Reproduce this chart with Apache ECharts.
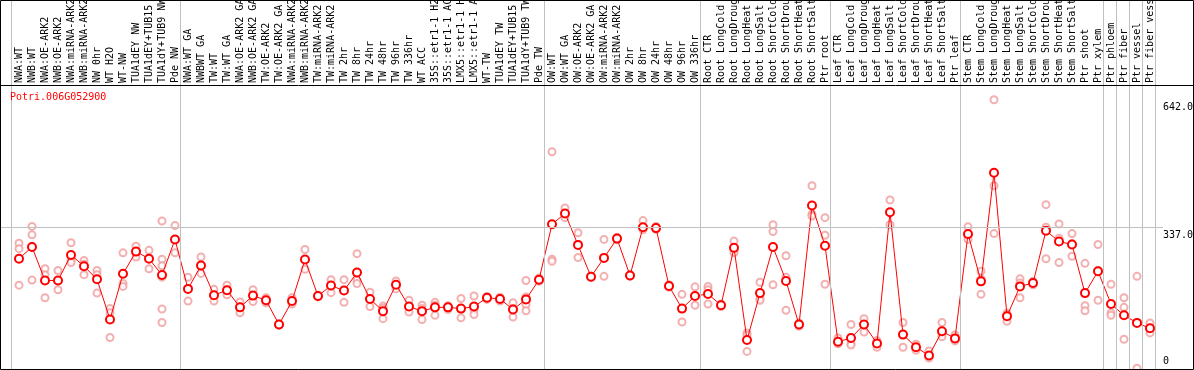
<!DOCTYPE html>
<html>
<head>
<meta charset="utf-8">
<script src="https://cdn.jsdelivr.net/npm/echarts@6.0.0/dist/echarts.min.js"></script>
<style>
  body { margin: 0; background: #fff; }
  #chart { width: 1194px; height: 370px; }
</style>
</head>
<body>
<div id="chart"></div>
<script>
const geneId = 'Potri.006G052900';

const categories = [
  'NWA:WT', 'NWB:WT', 'NWA:OE-ARK2', 'NWB:OE-ARK2', 'NWA:miRNA-ARK2', 'NWB:miRNA-ARK2',
  'NW 0hr', 'WT H2O', 'WT-NW', 'TUA1dEY NW', 'TUA1dEY+TUB15 NW', 'TUA1dY+TUB9 NW', 'Pde NW',
  'NWA:WT GA', 'NWBWT GA', 'TW:WT', 'TW:WT GA', 'NWA:OE-ARK2 GA', 'NWB:OE-ARK2 GA',
  'TW:OE-ARK2', 'TW:OE-ARK2 GA', 'NWA:miRNA-ARK2 GA', 'NWB:miRNA-ARK2 GA', 'TW:miRNA-ARK2',
  'TW:miRNA-ARK2 GA', 'TW 2hr', 'TW 8hr', 'TW 24hr', 'TW 48hr', 'TW 96hr', 'TW 336hr',
  'WT ACC', '35S::etr1-1 H2O', '35S::etr1-1 ACC', 'LMX5::etr1-1 H2O', 'LMX5::etr1-1 ACC',
  'WT-TW', 'TUA1dEY TW', 'TUA1dEY+TUB15 TW', 'TUA1dY+TUB9 TW', 'Pde TW',
  'OW:WT', 'OW:WT GA', 'OW:OE-ARK2', 'OW:OE-ARK2 GA', 'OW:miRNA-ARK2', 'OW:miRNA-ARK2 GA',
  'OW 2hr', 'OW 8hr', 'OW 24hr', 'OW 48hr', 'OW 96hr', 'OW 336hr',
  'Root CTR', 'Root LongCold', 'Root LongDrought', 'Root LongHeat', 'Root LongSalt',
  'Root ShortCold', 'Root ShortDrought', 'Root ShortHeat', 'Root ShortSalt', 'Ptr root',
  'Leaf CTR', 'Leaf LongCold', 'Leaf LongDrought', 'Leaf LongHeat', 'Leaf LongSalt',
  'Leaf ShortCold', 'Leaf ShortDrought', 'Leaf ShortHeat', 'Leaf ShortSalt', 'Ptr leaf',
  'Stem CTR', 'Stem LongCold', 'Stem LongDrought', 'Stem LongHeat', 'Stem LongSalt',
  'Stem ShortCold', 'Stem ShortDrought', 'Stem ShortHeat', 'Stem ShortSalt', 'Ptr shoot', 'Ptr xylem',
  'Ptr phloem', 'Ptr fiber', 'Ptr vessel', 'Ptr fiber vessel'
];

// category index where each sample group starts (last one = end of axis)
const groupBreaks = [0, 13, 41, 53, 63, 73, 84, 85, 86, 87, 88];

const means = [
  263, 291, 211, 211, 272, 245, 214, 118, 227, 280, 263, 224, 309,
  191, 247, 176, 188, 147, 175, 164, 106, 162, 261, 174, 199, 187, 230, 167, 138, 201,
  149, 138, 147, 147, 144, 149, 170, 167, 142, 166, 213,
  345, 371, 296, 220, 265, 311, 223, 338, 336, 198, 144, 174,
  179, 152, 289, 69, 181, 291, 210, 106, 390, 294,
  65, 74, 106, 61, 374, 82, 52, 32, 90, 73,
  322, 209, 468, 126, 197, 205, 330, 304, 297, 181, 233,
  155, 128, 110, 97
];

const replicates = [
  [300, 287, 200], [340, 320, 212], [239, 225, 170], [235, 211, 189], [301, 259, 254],
  [259, 250, 225], [235, 225, 181], [144, 134, 75], [277, 204, 197], [293, 280, 267],
  [283, 264, 239], [353, 262, 246, 219, 143, 111], [342, 277],
  [219, 162], [267, 228], [190, 176, 162], [200, 188, 177], [160, 147, 134],
  [189, 175, 161], [170, 164, 158], [108, 106, 104], [170, 162, 155], [285, 261, 238],
  [176, 174, 172], [213, 199, 182], [213, 188, 159], [275, 212, 204], [183, 168, 149],
  [150, 145, 120], [210, 201, 191], [164, 149, 136], [152, 144, 118], [159, 152, 128],
  [151, 148, 142], [168, 143, 122], [174, 141, 130], [173, 170, 166], [171, 167, 162],
  [158, 144, 124], [211, 172, 154, 139], [217, 213, 209],
  [518, 262, 257], [384, 371, 361], [325, 297, 266], [222, 220, 218], [309, 265, 221],
  [314, 311, 308], [225, 223, 221], [354, 338, 332], [340, 336, 333], [201, 198, 195],
  [178, 144, 112], [196, 174, 152],
  [197, 189, 155], [155, 152, 149], [305, 283, 277], [86, 81, 42], [207, 168, 164],
  [344, 328, 201], [270, 219, 140], [110, 106, 102], [437, 369, 365], [361, 319, 202],
  [74, 62, 60], [106, 60, 57], [120, 106, 88], [68, 61, 52], [403, 374, 344],
  [111, 82, 52], [59, 52, 45], [43, 32, 26], [111, 84, 77], [81, 70, 67],
  [339, 318, 309], [233, 215, 178], [642, 437, 323], [133, 130, 114], [215, 205, 170],
  [209, 205, 201], [392, 338, 263], [346, 312, 254], [323, 299, 269], [252, 151, 139],
  [297, 235, 164],
  [202, 134, 128], [170, 147, 71], [221, 2], [110, 96, 86]
];

const yTicks = [0, 337, 642];

const font = 'DejaVu Sans Mono';
const chart = echarts.init(document.getElementById('chart'));

const repData = [];
replicates.forEach((reps, i) => reps.forEach(v => repData.push([i, v])));

chart.setOption({
  animation: false,
  title: {
    text: geneId,
    left: 10,
    top: 92,
    padding: 0,
    textStyle: { color: '#ff0000', fontSize: 10, fontFamily: font, fontWeight: 'normal' }
  },
  grid: { left: 0, top: 0, width: 1163, height: 369, outerBoundsMode: 'none', containLabel: false },
  xAxis: {
    type: 'value',
    position: 'top',
    offset: -85,
    min: -19 / 13,
    max: 88,
    axisLine: { show: false },
    axisTick: { show: false },
    splitLine: { show: false },
    axisLabel: {
      customValues: categories.map((c, i) => i),
      formatter: v => categories[v],
      rotate: 90,
      margin: 2,
      color: '#000',
      fontSize: 10,
      fontFamily: font
    }
  },
  yAxis: {
    type: 'value',
    position: 'right',
    min: 0,
    max: 880,
    axisLine: { show: false },
    axisTick: { show: false },
    splitLine: { show: false },
    axisLabel: {
      customValues: yTicks,
      margin: 0,
      color: '#000',
      fontSize: 10,
      fontFamily: font,
      formatter: v => v === 0 ? '{lo|0}' : '{hi|' + v.toFixed(1) + '}',
      rich: {
        hi: { lineHeight: 26, verticalAlign: 'bottom', fontSize: 10, fontFamily: font },
        lo: { lineHeight: 26, verticalAlign: 'top', fontSize: 10, fontFamily: font }
      }
    }
  },
  graphic: [
    { type: 'rect', shape: { x: 0.5, y: 0.5, width: 1193, height: 369 },
      style: { fill: 'none', stroke: '#000', lineWidth: 1 }, z: 10 },
    { type: 'line', shape: { x1: 0, y1: 85.5, x2: 1194, y2: 85.5 },
      style: { stroke: '#000', lineWidth: 1 }, z: 10 }
  ],
  series: [
    {
      type: 'scatter',
      data: repData,
      symbol: 'emptyCircle',
      symbolSize: 7,
      itemStyle: { color: '#f09c9c', borderWidth: 1.3 },
      z: 2,
      silent: true,
      markLine: {
        silent: true,
        symbol: 'none',
        label: { show: false },
        lineStyle: { color: '#c0c0c0', width: 1, type: 'solid' },
        data: groupBreaks.map(k => ({ xAxis: k - 7.5 / 13 })).concat([{ yAxis: yTicks[1] }])
      }
    },
    {
      type: 'line',
      data: means.map((v, i) => [i, v]),
      symbol: 'emptyCircle',
      symbolSize: 8,
      lineStyle: { color: '#ff0000', width: 1 },
      itemStyle: { color: '#ff0000', borderWidth: 1.6 },
      z: 3,
      silent: true
    }
  ]
});
</script>
</body>
</html>
